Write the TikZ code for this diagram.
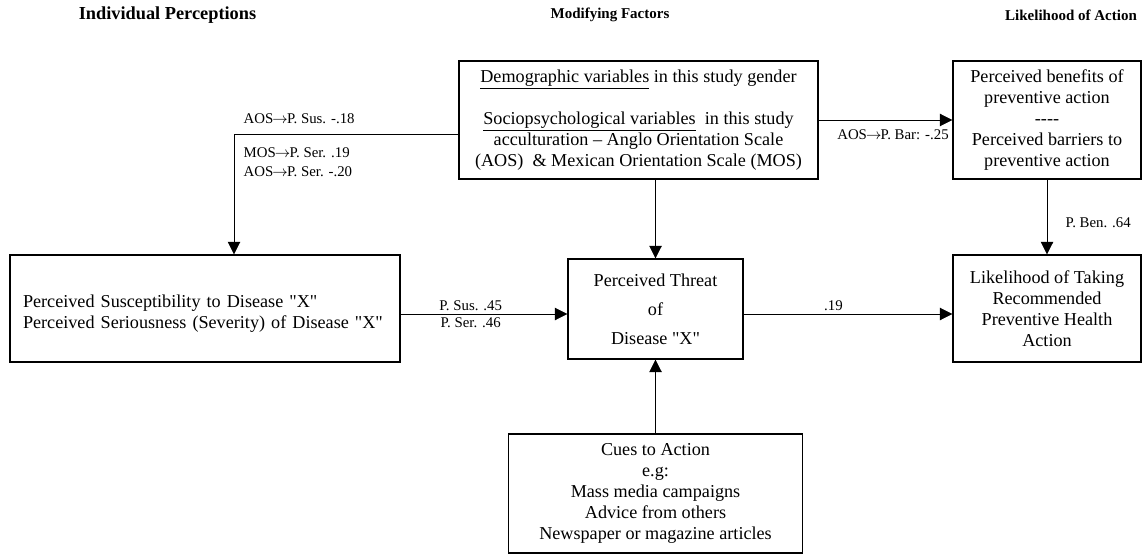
\documentclass[tikz,border=0pt]{standalone}
\usepackage{fontspec}
\setmainfont{Liberation Serif}
\newfontfamily\bodyfont{Liberation Serif}
\usepackage{tikz}
\usetikzlibrary{arrows.meta}
\newcommand{\ato}{\ensuremath{\mkern-1mu\rightarrow\mkern-1mu}}
\tikzset{
    factor/.style={
           rectangle,
           draw=black, thick,
           inner sep=0pt,
           align=center,
           font=\bodyfont\fontsize{10.9pt}{12.6pt}\selectfont,
           },
    heading/.style={
           font=\bodyfont\fontsize{9pt}{11pt}\selectfont\bfseries,
           },
    coef/.style={
           font=\bodyfont\fontsize{8.9pt}{11.4pt}\selectfont,
           inner sep=2pt,
           align=left,
           },
    >={Triangle[length=7.5pt,width=7.5pt]},
}

\begin{document}
\begin{tikzpicture}[x=0.6pt, y=-0.6pt]
    \useasboundingbox (0,0) rectangle (1143,554);

    % column headings
    \node[heading, font=\bodyfont\fontsize{11pt}{13pt}\selectfont\bfseries]
        (hIndiv) at (167.5,15) {Individual Perceptions};
    \node[heading] (hMod) at (610,15) {Modifying Factors};
    \node[heading] (hLike) at (1071,15) {Likelihood of Action};

    % Modifying factors: demographic and sociopsychological variables
    \node[factor,           % layout (defined above)
    minimum width=215.4pt,  % box size
    minimum height=70.8pt,
    anchor=center] (demo) at (638.5,120)
    {\underline{Demographic variables} in this study gender\\[12.6pt]
     \underline{Sociopsychological variables}\ \ in this study\\
     acculturation – Anglo Orientation Scale\\
     (AOS)\ \ \& Mexican Orientation Scale (MOS)};

    % benefits and barriers
    \node[factor,           % layout (defined above)
    minimum width=112.8pt,
    minimum height=70.8pt,
    node distance=245.1pt,
    right of=demo,
    anchor=center] (bene)
    {Perceived benefits of\\ preventive action\\ ----\\
     Perceived barriers to\\ preventive action};

    % likelihood of action
    \node[factor,
    minimum width=112.8pt,
    minimum height=64.2pt,
    node distance=113.1pt,
    below of=bene,
    anchor=center] (like)
    {Likelihood of Taking\\ Recommended\\ Preventive Health\\ Action};

    % perceived threat
    \node[factor,
    minimum width=105pt,
    minimum height=60pt,
    anchor=center] (threat) at (655.5,309)
    {Perceived Threat\\[4.8pt] of\\[4.8pt] Disease "X"};

    % individual perceptions (text sits a little low in the box)
    \node[factor,
    text width=218.4pt,
    inner xsep=7.8pt,
    minimum height=64.2pt,
    align=left,
    anchor=center] (sus) at (205,308.5)
    {\raisebox{-5.8pt}[0pt][0pt]{\begin{tabular}{@{}l@{}}
     Perceived Susceptibility to Disease "X"\\
     Perceived Seriousness (Severity) of Disease "X"
     \end{tabular}}};

    % cues to action
    \node[factor,
    minimum width=176.4pt,
    minimum height=71.4pt,
    node distance=110.7pt,
    below of=threat,
    anchor=center] (cues)
    {Cues to Action\\ e.g:\\ Mass media campaigns\\
     Advice from others\\ Newspaper or magazine articles};

    % the row of the horizontal arrows
    \coordinate (row) at (0,314);

    % draw the paths and the coefficients next to them
    \path
        (sus.east |- row) edge[->]
            node[coef, above, pos=0.42] (lSus) {P. Sus. .45}
            node[coef, below, pos=0.42] (lSer) {P. Ser. .46}
        (threat.west |- row)

        (threat.east |- row) edge[->]
            node[coef, above, pos=0.43] (lThr) {.19}
        (like.west |- row)

        (demo) edge[->]
            node[coef, below left, pos=1, yshift=-3.6pt] (lBar) {AOS\ato P. Bar: -.25}
        (bene)

        (bene) edge[->]
            node[coef, right, pos=0.57, xshift=9pt] (lBen) {P. Ben. .64}
        (like)

        (demo.south -| threat) edge[->] (threat)

        (cues) edge[->] (threat);

    \draw[->] ([yshift=-8.4pt]demo.west) -| ([xshift=17.4pt]sus.north)
        node[coef, pos=0.5, above right, xshift=3.6pt, yshift=4pt] (lAos)
            {AOS\ato P. Sus. -.18}
        node[coef, pos=0.5, below right, xshift=3.6pt, yshift=-6pt] (lMos)
            {MOS\ato P. Ser. .19\\ AOS\ato P. Ser. -.20};
\end{tikzpicture}
\end{document}
